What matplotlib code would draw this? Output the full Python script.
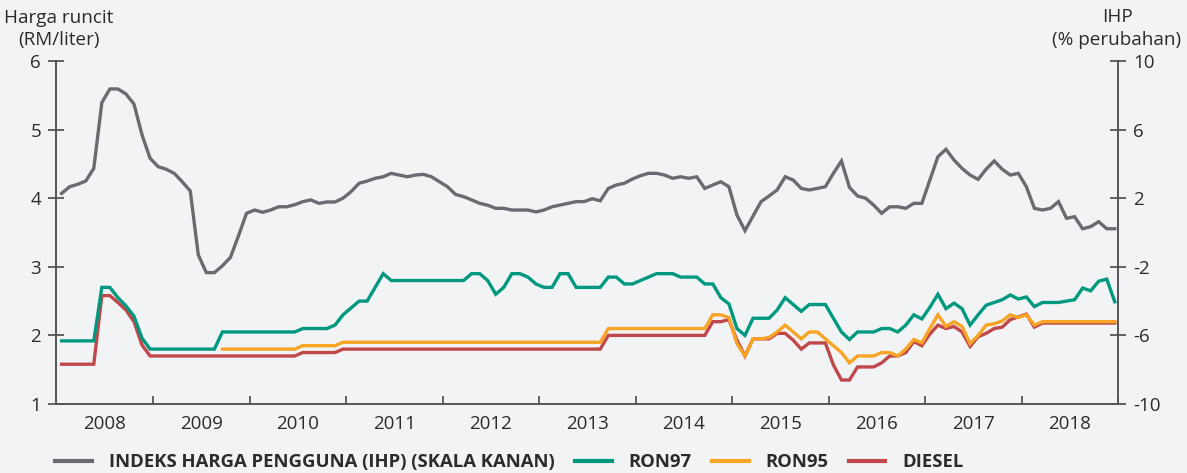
import numpy as np
import matplotlib
matplotlib.use("Agg")
import matplotlib.pyplot as plt
from matplotlib.lines import Line2D

plt.rcParams['font.family'] = ['Open Sans', 'DejaVu Sans']
plt.rcParams['axes.unicode_minus'] = False

nan = np.nan

# monthly, Jan 2008 - Dec 2018 (one row per year)
ihp = [
    2.28, 2.67, 2.81, 3.00, 3.74, 7.57, 8.37, 8.37, 8.08, 7.49, 5.69, 4.33,
    3.84, 3.69, 3.45, 2.96, 2.42, -1.31, -2.34, -2.34, -1.94, -1.45, -0.19, 1.12,
    1.31, 1.18, 1.31, 1.50, 1.50, 1.62, 1.80, 1.90, 1.70, 1.78, 1.78, 2.00,
    2.38, 2.87, 3.00, 3.16, 3.25, 3.45, 3.35, 3.25, 3.35, 3.39, 3.25, 2.96,
    2.67, 2.22, 2.09, 1.90, 1.70, 1.59, 1.41, 1.41, 1.31, 1.31, 1.31, 1.20,
    1.31, 1.50, 1.60, 1.70, 1.80, 1.80, 1.97, 1.85, 2.57, 2.77, 2.87, 3.12,
    3.31, 3.45, 3.45, 3.35, 3.16, 3.25, 3.16, 3.25, 2.57, 2.77, 2.96, 2.67,
    1.02, 0.11, 0.96, 1.80, 2.13, 2.48, 3.25, 3.06, 2.57, 2.48, 2.57, 2.67,
    3.45, 4.17, 2.63, 2.13, 2.00, 1.60, 1.12, 1.50, 1.50, 1.41, 1.70, 1.70,
    3.06, 4.42, 4.85, 4.23, 3.74, 3.35, 3.10, 3.69, 4.17, 3.69, 3.35, 3.45,
    2.67, 1.41, 1.31, 1.41, 1.80, 0.83, 0.92, 0.22, 0.34, 0.63, 0.22, 0.22,
]

ron97 = [
    1.92, 1.92, 1.92, 1.92, 1.92, 2.70, 2.70, 2.55, 2.43, 2.28, 1.96, 1.80,
    1.80, 1.80, 1.80, 1.80, 1.80, 1.80, 1.80, 1.80, 2.05, 2.05, 2.05, 2.05,
    2.05, 2.05, 2.05, 2.05, 2.05, 2.05, 2.10, 2.10, 2.10, 2.10, 2.15, 2.30,
    2.40, 2.50, 2.50, 2.70, 2.90, 2.80, 2.80, 2.80, 2.80, 2.80, 2.80, 2.80,
    2.80, 2.80, 2.80, 2.90, 2.90, 2.80, 2.60, 2.70, 2.90, 2.90, 2.85, 2.75,
    2.70, 2.70, 2.90, 2.90, 2.70, 2.70, 2.70, 2.70, 2.85, 2.85, 2.75, 2.75,
    2.80, 2.85, 2.90, 2.90, 2.90, 2.85, 2.85, 2.85, 2.75, 2.75, 2.55, 2.46,
    2.10, 2.00, 2.25, 2.25, 2.25, 2.37, 2.55, 2.45, 2.35, 2.45, 2.45, 2.45,
    2.25, 2.05, 1.94, 2.05, 2.05, 2.05, 2.10, 2.10, 2.05, 2.15, 2.30, 2.24,
    2.41, 2.60, 2.39, 2.47, 2.39, 2.15, 2.30, 2.44, 2.48, 2.52, 2.59, 2.53,
    2.56, 2.42, 2.48, 2.48, 2.48, 2.50, 2.52, 2.69, 2.65, 2.79, 2.82, 2.49,
]

ron95 = [
    nan, nan, nan, nan, nan, nan, nan, nan, nan, nan, nan, nan,
    nan, nan, nan, nan, nan, nan, nan, nan, 1.80, 1.80, 1.80, 1.80,
    1.80, 1.80, 1.80, 1.80, 1.80, 1.80, 1.85, 1.85, 1.85, 1.85, 1.85, 1.90,
    1.90, 1.90, 1.90, 1.90, 1.90, 1.90, 1.90, 1.90, 1.90, 1.90, 1.90, 1.90,
    1.90, 1.90, 1.90, 1.90, 1.90, 1.90, 1.90, 1.90, 1.90, 1.90, 1.90, 1.90,
    1.90, 1.90, 1.90, 1.90, 1.90, 1.90, 1.90, 1.90, 2.10, 2.10, 2.10, 2.10,
    2.10, 2.10, 2.10, 2.10, 2.10, 2.10, 2.10, 2.10, 2.10, 2.30, 2.30, 2.26,
    1.88, 1.70, 1.95, 1.95, 1.97, 2.05, 2.15, 2.05, 1.95, 2.05, 2.05, 1.95,
    1.85, 1.75, 1.60, 1.70, 1.70, 1.70, 1.75, 1.75, 1.70, 1.80, 1.94, 1.89,
    2.10, 2.30, 2.13, 2.20, 2.13, 1.88, 2.00, 2.15, 2.17, 2.21, 2.30, 2.26,
    2.30, 2.15, 2.20, 2.20, 2.20, 2.20, 2.20, 2.20, 2.20, 2.20, 2.20, 2.20,
]

diesel = [
    1.58, 1.58, 1.58, 1.58, 1.58, 2.58, 2.58, 2.48, 2.37, 2.20, 1.86, 1.70,
    1.70, 1.70, 1.70, 1.70, 1.70, 1.70, 1.70, 1.70, 1.70, 1.70, 1.70, 1.70,
    1.70, 1.70, 1.70, 1.70, 1.70, 1.70, 1.75, 1.75, 1.75, 1.75, 1.75, 1.80,
    1.80, 1.80, 1.80, 1.80, 1.80, 1.80, 1.80, 1.80, 1.80, 1.80, 1.80, 1.80,
    1.80, 1.80, 1.80, 1.80, 1.80, 1.80, 1.80, 1.80, 1.80, 1.80, 1.80, 1.80,
    1.80, 1.80, 1.80, 1.80, 1.80, 1.80, 1.80, 1.80, 2.00, 2.00, 2.00, 2.00,
    2.00, 2.00, 2.00, 2.00, 2.00, 2.00, 2.00, 2.00, 2.00, 2.20, 2.20, 2.23,
    1.93, 1.70, 1.95, 1.95, 1.95, 2.03, 2.03, 1.93, 1.80, 1.89, 1.89, 1.89,
    1.57, 1.35, 1.35, 1.54, 1.54, 1.54, 1.60, 1.70, 1.70, 1.75, 1.91, 1.85,
    2.02, 2.15, 2.10, 2.13, 2.05, 1.84, 1.98, 2.03, 2.10, 2.12, 2.23, 2.27,
    2.31, 2.12, 2.18, 2.18, 2.18, 2.18, 2.18, 2.18, 2.18, 2.18, 2.18, 2.18,
]

years = ['2008', '2009', '2010', '2011', '2012', '2013',
         '2014', '2015', '2016', '2017', '2018']
labels = ['INDEKS HARGA PENGGUNA (IHP) (SKALA KANAN)', 'RON97', 'RON95', 'DIESEL']

bg = '#f2f3f5'
c_ihp = '#6a6a70'
c_97 = '#00997f'
c_95 = '#f8a424'
c_dsl = '#c0474a'
c_ax = '#555559'
c_txt = '#2b2b2b'

x = np.arange(len(ron97))

fig = plt.figure(figsize=(11.87, 4.73), dpi=100, facecolor=bg)
ax = fig.add_axes([56/1187, 1 - 404/473, (1118-56)/1187, (404-61)/473])
ax.set_facecolor(bg)
ax2 = ax.twinx()

lw = 2.4
ax.plot(x, diesel, color=c_dsl, lw=lw, solid_joinstyle='miter')
ax.plot(x, ron95, color=c_95, lw=lw, solid_joinstyle='miter')
ax.plot(x, ron97, color=c_97, lw=lw, solid_joinstyle='miter')
ax2.plot(x, ihp, color=c_ihp, lw=lw, solid_joinstyle='miter')

ax.set_xlim(-0.7, 131.4)
ax.set_ylim(1, 6)
ax2.set_ylim(-10, 10)

ax.set_yticks([1, 2, 3, 4, 5, 6])
ax2.set_yticks([-10, -6, -2, 2, 6, 10])
ax.set_xticks([11.4 + 12*k for k in range(11)])
ax.set_xticklabels([])
ax.set_xticks([5.4 + 12*k for k in range(11)], minor=True)
ax.set_xticklabels(years, minor=True)

for a in (ax, ax2):
    a.spines['top'].set_visible(False)
    for s in a.spines.values():
        s.set_color(c_ax)
        s.set_linewidth(1.4)
ax.spines['right'].set_visible(False)
ax2.spines['left'].set_visible(False)
ax2.spines['bottom'].set_visible(False)

ax.tick_params(axis='y', direction='inout', length=11.5, width=1.3, color=c_ax,
               labelsize=13.5, labelcolor=c_txt, pad=5)
ax2.tick_params(axis='y', direction='inout', length=11.5, width=1.3, color=c_ax,
                labelsize=13.5, labelcolor=c_txt, pad=5)
ax.tick_params(axis='x', which='major', direction='in', length=6, width=1.3, color=c_ax)
ax.tick_params(axis='x', which='minor', length=0, labelsize=13.5, labelcolor=c_txt, pad=8)

fig.text(59/1187, 1 - 18/473, 'Harga runcit', ha='center', va='center',
         fontsize=13.6, color=c_txt)
fig.text(59/1187, 1 - 40/473, '(RM/liter)', ha='center', va='center',
         fontsize=13.6, color=c_txt)
fig.text(1117/1187, 1 - 17/473, 'IHP', ha='center', va='center',
         fontsize=13.6, color=c_txt)
fig.text(1117/1187, 1 - 40/473, '(% perubahan)', ha='center', va='center',
         fontsize=13.6, color=c_txt)

handles = [Line2D([], [], color=c, lw=3) for c in (c_ihp, c_97, c_95, c_dsl)]
leg = fig.legend(handles, labels, loc='center left', ncol=4,
                 bbox_to_anchor=(55/1187, 1 - 462/473), frameon=False,
                 prop={'size': 13.3, 'weight': 'bold'},
                 handlelength=2.0, handletextpad=0.92, columnspacing=1.08,
                 borderaxespad=0, borderpad=0)
for t in leg.get_texts():
    t.set_color(c_txt)

fig.savefig('out.png', dpi=100, facecolor=bg)
